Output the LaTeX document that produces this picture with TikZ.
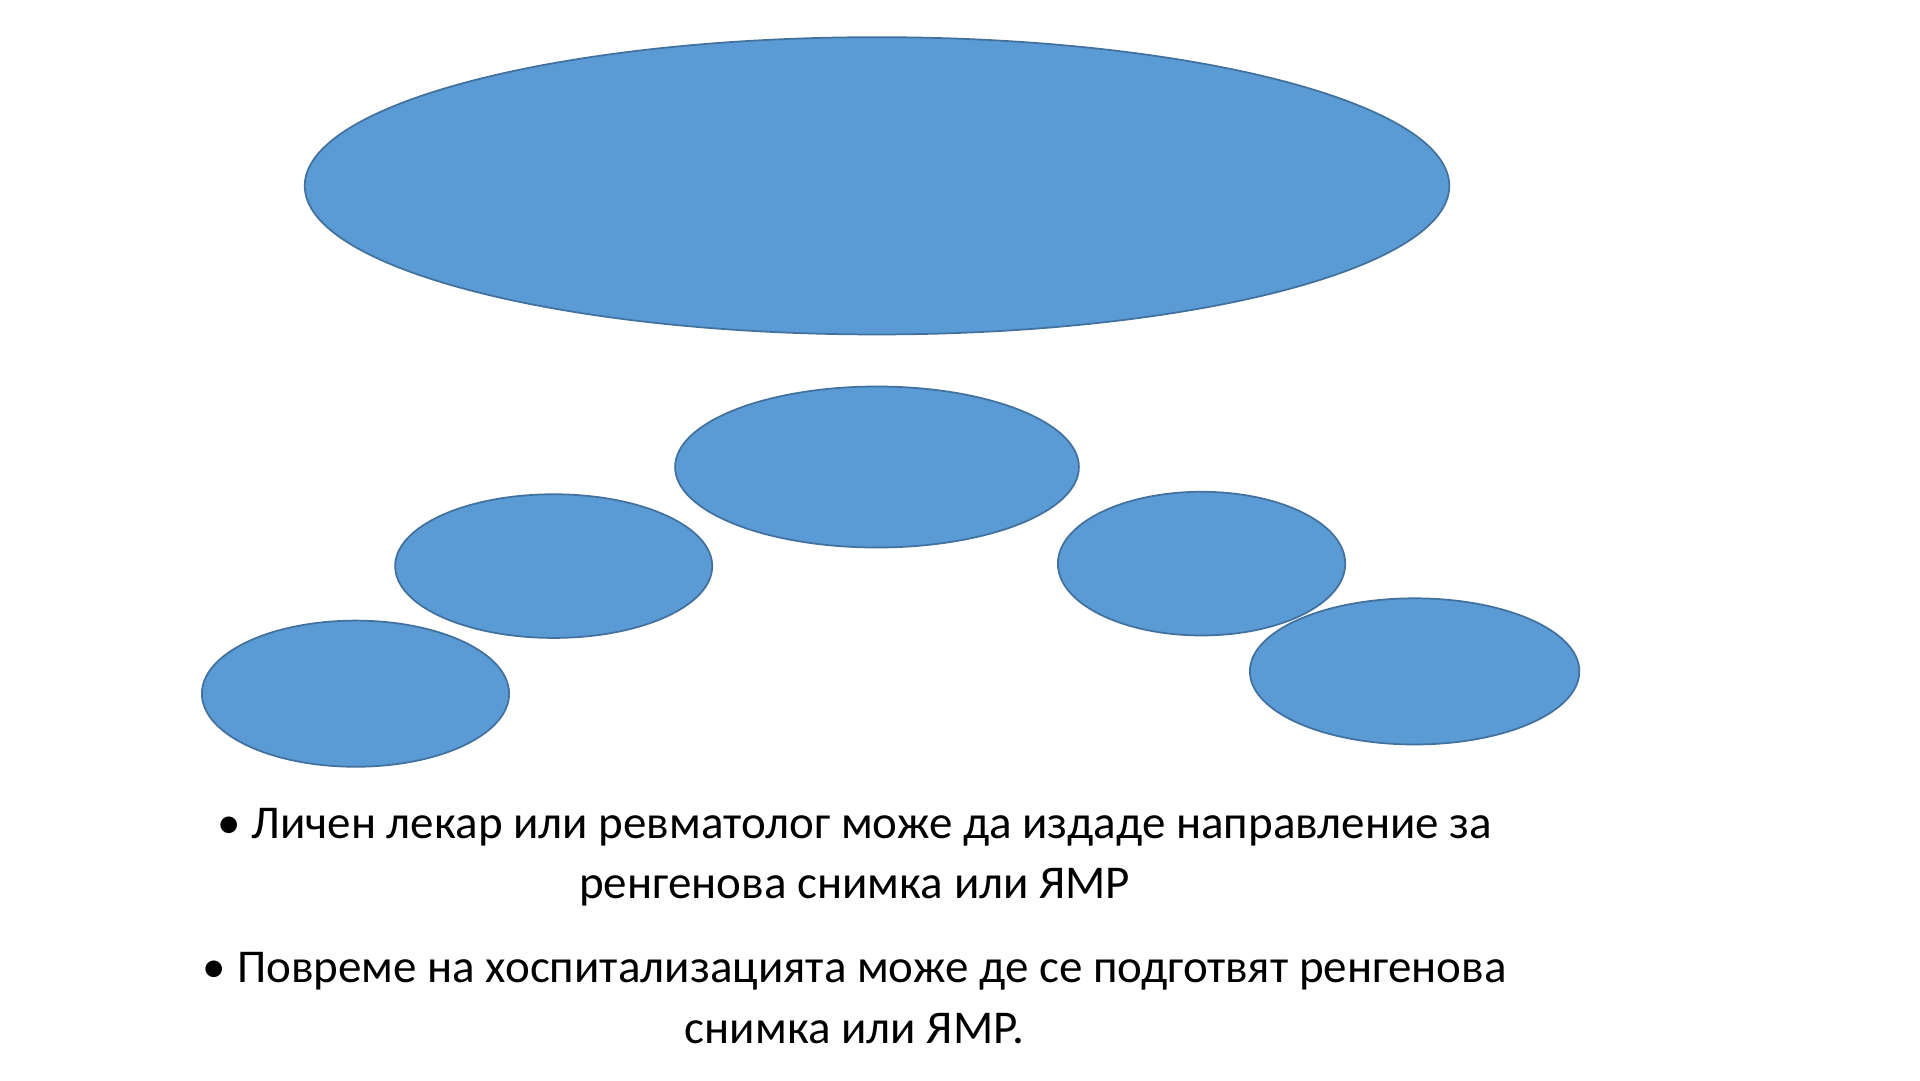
\documentclass[tikz,border=0pt]{standalone}
\usepackage{fontspec}
\setmainfont{Carlito}
\definecolor{efill}{HTML}{5B9BD5}
\definecolor{eline}{HTML}{41719C}
\definecolor{etext}{HTML}{843C0C}
\begin{document}
\begin{tikzpicture}[x=0.01cm,y=-0.01cm,
  ell/.style={draw=eline,fill=efill,line width=0.4pt,ellipse,inner sep=0pt,text=etext,align=center,font=\fontsize{7.3}{10}\selectfont},
  bul/.style={align=center,font=\fontsize{10.8}{14}\selectfont,text=black}]
\useasboundingbox (0,0) rectangle (1550,872);
\newcommand\myell[5]{\draw[draw=eline,fill=efill,line width=0.4pt] (#1,#2) ellipse [x radius=#3,y radius=#4];}
\myell{708}{150}{462}{120}
\node[ell,draw=none,fill=none] (main) at (708,150) {Необходими документи\ \ при постъпване в\\СБР за рехабилитационен курс по клинична\\пътека 265};
\myell{708}{377}{163}{65}
\node[ell,draw=none,fill=none] (r) at (708,377) {Ренгенова\\снимка или\\ЯМР};
\myell{447}{457}{128}{58}
\node[ell,draw=none,fill=none] (t) at (447,457) {ТЕЛК\\решение};
\myell{287}{560}{124}{59}
\node[ell,draw=none,fill=none] (l) at (287,560) {Лична\\карта};
\myell{970}{455}{116}{58}
\node[ell,draw=none,fill=none] (e) at (970,455) {Епикриза};
\myell{1142}{542}{133}{59}
\node[ell,draw=none,fill=none] (a) at (1142,542) {Амбулаторн\\а карта};
\node[bul] (b1) at (690,692) {• Личен лекар или ревматолог може да издаде направление за\\ренгенова снимка или ЯМР};
\node[bul] (b2) at (690,806) {• Повреме на хоспитализацията може де се подготвят ренгенова\\снимка или ЯМР.};
\end{tikzpicture}
\end{document}
